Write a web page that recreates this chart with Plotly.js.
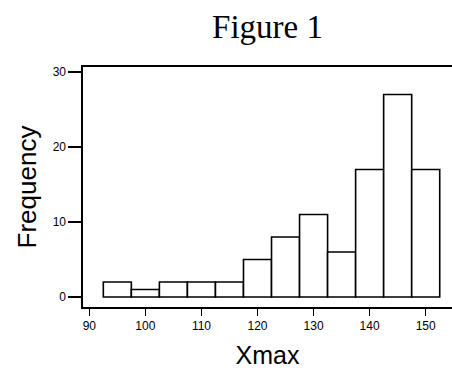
<!DOCTYPE html>
<html>
<head>
<meta charset="utf-8">
<script src="https://cdn.plot.ly/plotly-3.0.1.min.js"></script>
<style>html,body{margin:0;padding:0;background:#fff;}#chart{width:452px;height:370px;}</style>
</head>
<body>
<div id="chart"></div>
<script>
const binCenters = [95, 100, 105, 110, 115, 120, 125, 130, 135, 140, 145, 150];
const frequencies = [2, 1, 2, 2, 2, 5, 8, 11, 6, 17, 27, 17];
const xTickVals = [90, 100, 110, 120, 130, 140, 150];
const yTickVals = [0, 10, 20, 30];

const trace = {
  type: 'bar',
  x: binCenters,
  y: frequencies,
  width: 5,
  marker: { color: '#ffffff', line: { color: '#000000', width: 1.6 } },
  hoverinfo: 'skip'
};

const layout = {
  width: 452,
  height: 370,
  margin: { l: 83, r: 0, t: 67, b: 63 },
  paper_bgcolor: '#ffffff',
  plot_bgcolor: '#ffffff',
  showlegend: false,
  bargap: 0,
  title: {
    text: 'Figure 1',
    font: { family: 'Liberation Serif, Times New Roman, serif', size: 33, color: '#000' },
    x: 0.5, xref: 'paper',
    y: 1 - 26 / 370, yref: 'container', yanchor: 'middle'
  },
  xaxis: {
    range: [88.876, 154.69],
    tickvals: xTickVals,
    ticktext: xTickVals.map(String),
    ticks: 'outside', ticklen: 7, tickwidth: 1.5, tickcolor: '#000',
    showline: true, linecolor: '#000', linewidth: 1.6, mirror: true,
    showgrid: false, zeroline: false,
    tickfont: { family: 'Liberation Sans, Arial, sans-serif', size: 12, color: '#000' },
    title: { text: 'Xmax', font: { family: 'Liberation Sans, Arial, sans-serif', size: 25, color: '#000' }, standoff: 14 }
  },
  yaxis: {
    range: [-1.333, 30.667],
    tickvals: yTickVals,
    ticktext: yTickVals.map(String),
    ticks: 'outside', ticklen: 13, tickwidth: 1.5, tickcolor: '#000',
    showline: true, linecolor: '#000', linewidth: 1.6, mirror: false,
    showgrid: false, zeroline: false,
    tickfont: { family: 'Liberation Sans, Arial, sans-serif', size: 12, color: '#000' },
    title: { text: 'Frequency', font: { family: 'Liberation Sans, Arial, sans-serif', size: 26, color: '#000' }, standoff: 8 }
  }
};

Plotly.newPlot('chart', [trace], layout, { staticPlot: true, displayModeBar: false });
</script>
</body>
</html>
